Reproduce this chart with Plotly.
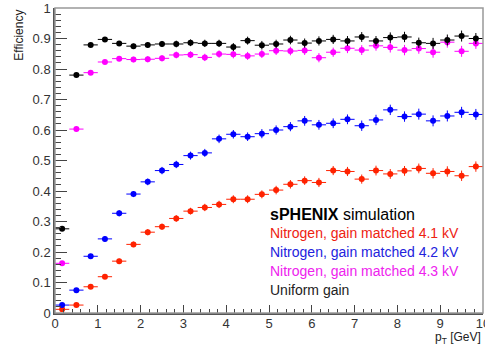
import plotly.graph_objects as go

x_centers = [0.1667 + i / 3 for i in range(30)]
bin_half_width = 1 / 6

red_41 = [0.012, 0.026, 0.086, 0.119, 0.170, 0.225, 0.265, 0.283, 0.310, 0.334,
          0.346, 0.356, 0.373, 0.373, 0.389, 0.403, 0.422, 0.434, 0.428, 0.467,
          0.464, 0.439, 0.467, 0.456, 0.466, 0.474, 0.458, 0.464, 0.450, 0.480]
blue_42 = [0.026, 0.075, 0.186, 0.243, 0.327, 0.390, 0.430, 0.467, 0.487, 0.516,
           0.525, 0.571, 0.586, 0.578, 0.588, 0.600, 0.611, 0.630, 0.617, 0.622,
           0.635, 0.614, 0.633, 0.666, 0.644, 0.652, 0.630, 0.646, 0.658, 0.651]
magenta_43 = [0.163, 0.603, 0.788, 0.823, 0.834, 0.831, 0.832, 0.835, 0.846, 0.847,
              0.838, 0.849, 0.848, 0.843, 0.849, 0.860, 0.859, 0.861, 0.837, 0.855,
              0.868, 0.862, 0.876, 0.871, 0.862, 0.867, 0.855, 0.888, 0.858, 0.884]
black_uniform = [0.276, 0.780, 0.879, 0.897, 0.884, 0.875, 0.879, 0.882, 0.882, 0.886,
                 0.884, 0.884, 0.872, 0.893, 0.878, 0.882, 0.895, 0.885, 0.892, 0.897,
                 0.892, 0.905, 0.892, 0.903, 0.905, 0.886, 0.884, 0.895, 0.908, 0.900]

err_red = [0.004, 0.005, 0.006, 0.007, 0.008, 0.009, 0.010, 0.010, 0.011, 0.011,
           0.012, 0.012, 0.013, 0.013, 0.013, 0.014, 0.014, 0.014, 0.015, 0.015,
           0.015, 0.015, 0.016, 0.016, 0.016, 0.016, 0.017, 0.017, 0.017, 0.017]
err_blue = [0.004, 0.006, 0.008, 0.009, 0.010, 0.010, 0.011, 0.012, 0.012, 0.013,
            0.013, 0.014, 0.014, 0.014, 0.015, 0.015, 0.015, 0.016, 0.016, 0.016,
            0.016, 0.017, 0.017, 0.017, 0.017, 0.018, 0.018, 0.018, 0.018, 0.018]
err_mag = [0.006, 0.008, 0.007, 0.007, 0.008, 0.009, 0.010, 0.010, 0.011, 0.011,
           0.012, 0.012, 0.013, 0.013, 0.013, 0.014, 0.014, 0.015, 0.015, 0.015,
           0.016, 0.016, 0.016, 0.017, 0.017, 0.017, 0.018, 0.018, 0.018, 0.018]
err_black = [0.006, 0.006, 0.006, 0.006, 0.007, 0.008, 0.009, 0.010, 0.011, 0.011,
             0.012, 0.012, 0.013, 0.013, 0.014, 0.014, 0.014, 0.015, 0.015, 0.015,
             0.016, 0.016, 0.016, 0.017, 0.017, 0.017, 0.018, 0.018, 0.018, 0.018]

series = [
    ("Nitrogen, gain matched 4.1 kV", red_41, err_red, "#ff2200"),
    ("Nitrogen, gain matched 4.2 kV", blue_42, err_blue, "#0000ff"),
    ("Nitrogen, gain matched 4.3 kV", magenta_43, err_mag, "#ff00ff"),
    ("Uniform gain", black_uniform, err_black, "#000000"),
]

fig = go.Figure()
for name, ys, errs, col in series:
    fig.add_trace(go.Scatter(
        x=x_centers, y=ys, mode="markers", name=name,
        marker=dict(color=col, size=6),
        error_x=dict(type="constant", value=bin_half_width, color=col, thickness=1, width=0),
        error_y=dict(type="data", array=errs, color=col, thickness=1, width=0),
        showlegend=False,
    ))

font_family = "Liberation Sans, Arial, Helvetica, sans-serif"

legend_lines = [
    ("<b>sPHENIX</b> simulation", "#000000", 0.324, 16),
    ("Nitrogen, gain matched 4.1 kV", "#ee2211", 0.261, 14),
    ("Nitrogen, gain matched 4.2 kV", "#2222dd", 0.201, 14),
    ("Nitrogen, gain matched 4.3 kV", "#ee22ee", 0.139, 14),
    ("Uniform gain", "#222222", 0.075, 14),
]
for txt, col, yy, fs in legend_lines:
    fig.add_annotation(x=4.98, y=yy, xref="x", yref="y", text=txt, showarrow=False,
                       xanchor="left", yanchor="middle",
                       font=dict(color=col, size=fs, family=font_family))

fig.add_annotation(x=1, y=-0.082, xref="paper", yref="paper",
                   text="p<sub>T</sub> [GeV]", showarrow=False,
                   xanchor="right", yanchor="middle",
                   font=dict(size=12, color="#222222", family=font_family))
fig.add_annotation(x=-0.086, y=1, xref="paper", yref="paper",
                   text="Efficiency", showarrow=False, textangle=-90,
                   xanchor="center", yanchor="top",
                   font=dict(size=12, color="#222222", family=font_family))

# frame
fig.add_shape(type="rect", xref="paper", yref="paper", x0=0, y0=0, x1=1, y1=1,
              line=dict(color="#999999", width=1.5), layer="above")

fig.update_layout(
    width=485, height=345,
    margin=dict(l=55, r=2, t=8, b=32, autoexpand=False),
    paper_bgcolor="white", plot_bgcolor="white",
    font=dict(family=font_family, color="#333333"),
    xaxis=dict(range=[0, 10], dtick=1, tick0=0, ticks="inside", ticklen=8,
               tickcolor="#444444", showgrid=False, zeroline=False, automargin=False,
               showline=True, linecolor="#555555", linewidth=1.5,
               ticklabeloverflow="allow", ticklabelstandoff=-2,
               tickfont=dict(size=13, color="#333333"),
               minor=dict(dtick=0.2, ticks="inside", ticklen=4, tickcolor="#444444")),
    yaxis=dict(range=[0, 1], dtick=0.1, tick0=0, ticks="inside", ticklen=12,
               tickcolor="#444444", showgrid=False, zeroline=False, automargin=False,
               showline=True, linecolor="#555555", linewidth=1.5,
               ticklabeloverflow="allow",
               tickfont=dict(size=13, color="#333333"),
               minor=dict(dtick=0.02, ticks="inside", ticklen=6, tickcolor="#444444")),
)

fig.write_html("out.html", config={"displayModeBar": False},
               post_script="document.body.style.margin='0';document.body.style.overflow='hidden';")
